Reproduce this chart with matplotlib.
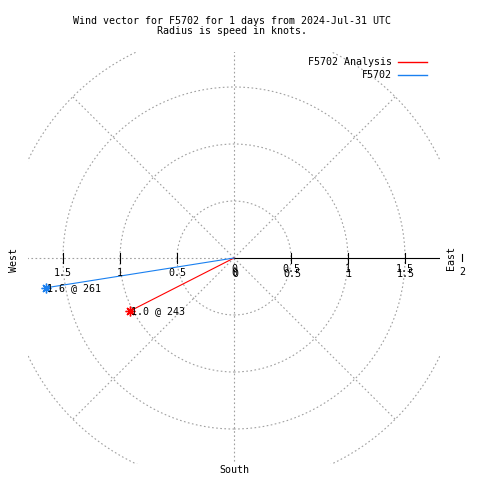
import matplotlib
matplotlib.use("Agg")
import matplotlib.pyplot as plt
from matplotlib.patches import Circle
import numpy as np

# wind vectors: direction (deg, from north clockwise) and speed (knots)
SERIES = ["F5702 Analysis", "F5702"]
DIRECTIONS = [243, 261]
SPEEDS = [1.02, 1.67]
POINT_LABELS = ["1.0 @ 243", "1.6 @ 261"]
COLORS = ["#ff0000", "#1a80f0"]

RINGS = [0.5, 1.0, 1.5, 2.0]
TICKS = [0, 0.5, 1, 1.5]
TICK_LABELS = ["0", "0.5", "1", "1.5"]
RMAX = 1.807

TITLE = "Wind vector for F5702 for 1 days from 2024-Jul-31 UTC\nRadius is speed in knots."

plt.rcParams["font.family"] = ["DejaVu Sans Mono"]
FS = 7.2
GRID = "#a0a0a0"
DOT = (0, (1.5, 2.2))
PX = 1 / 114  # one pixel in data units

fig = plt.figure(figsize=(4.8, 4.8), dpi=100)
# plot area 412 x 412 px, centre of the polar plot at (234, 258) px
ax = fig.add_axes([28 / 480, 16 / 480, 412 / 480, 412 / 480])
ax.set_xlim(-RMAX, RMAX)
ax.set_ylim(-RMAX, RMAX)
ax.set_aspect("equal")
ax.axis("off")

# rings and spokes
for r in RINGS:
    ax.add_patch(Circle((0, 0), r, fill=False, ec=GRID, lw=0.8, ls=DOT))
for a in range(45, 360, 45):
    t = np.deg2rad(a)
    ax.plot([0, 2 * np.cos(t)], [0, 2 * np.sin(t)], color=GRID, lw=0.8, ls=DOT)

# east axis
ax.plot([0, RMAX], [0, 0], color="black", lw=0.8)
for x in TICKS[1:]:
    for s in (1, -1):
        ax.plot([s * x, s * x], [-5 * PX, 5 * PX], color="black", lw=0.8)
ax.plot([2.0, 2.0], [-3 * PX, 4 * PX], color="black", lw=0.8, clip_on=False)

# tick labels (gnuplot draws them twice on the east side)
for x, lab in zip(TICKS, TICK_LABELS):
    ax.text(x, -11 * PX, lab, ha="center", va="center", fontsize=FS)
    ax.text(x + PX, -16 * PX, lab, ha="center", va="center", fontsize=FS)
    ax.text(-x, -15 * PX, lab, ha="center", va="center", fontsize=FS)
ax.text(2.0, -14 * PX, "2", ha="center", va="center", fontsize=FS, clip_on=False)

# compass labels
ax.text(-220 * PX, -2 * PX, "West", rotation=90, ha="center", va="center", fontsize=FS, clip_on=False)
ax.text(217 * PX, 0, "East", rotation=90, ha="center", va="center", fontsize=FS, clip_on=False)
ax.text(0, -212 * PX, "South", ha="center", va="center", fontsize=FS, clip_on=False)

# vectors
for d, sp, lab, c in zip(DIRECTIONS, SPEEDS, POINT_LABELS, COLORS):
    t = np.deg2rad(d)
    x, y = sp * np.sin(t), sp * np.cos(t)
    ax.plot([0, x], [0, y], color=c, lw=0.8)
    ax.plot([x], [y], marker=(8, 2, 0), color=c, ms=7, mew=1.0)
    ax.text(x + PX, y, lab, ha="left", va="center", fontsize=FS)

# legend
for i, (name, c) in enumerate(zip(SERIES, COLORS)):
    yy = 1 - (62 + 13 * i) / 480
    fig.text(392 / 480, yy, name, ha="right", va="center", fontsize=FS)
    fig.add_artist(plt.Line2D([398 / 480, 427 / 480], [yy, yy], color=c, lw=1.0))

fig.text(232 / 480, 1 - 26 / 480, TITLE, ha="center", va="center", fontsize=FS, linespacing=1.1)

fig.savefig("out.png", dpi=100)
